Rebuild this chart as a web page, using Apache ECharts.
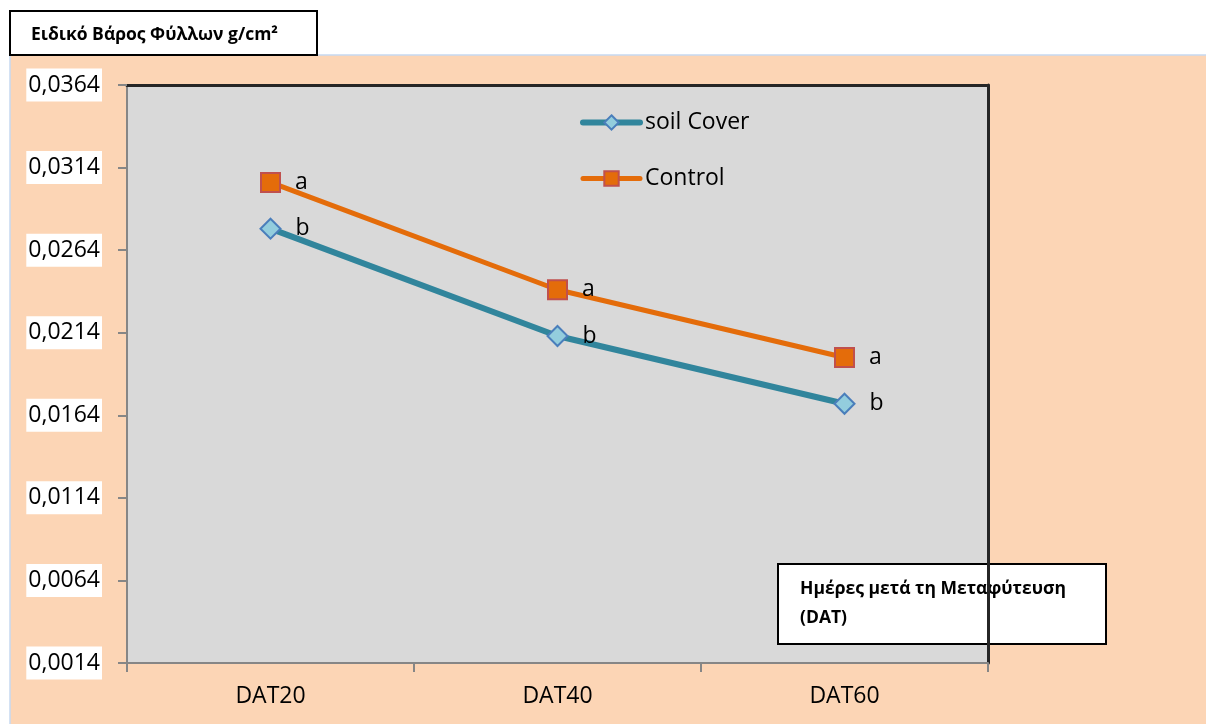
<!DOCTYPE html>
<html>
<head>
<meta charset="utf-8">
<title>Ειδικό Βάρος Φύλλων</title>
<script src="https://cdn.jsdelivr.net/npm/echarts@6/dist/echarts.min.js"></script>
<style>
  html, body { margin: 0; padding: 0; background: #ffffff; }
  #chart { width: 1206px; height: 724px; }
</style>
</head>
<body>
<div id="chart"></div>
<script>
// Specific leaf weight (g/cm²) at days after transplanting
const categories = ['DAT20', 'DAT40', 'DAT60'];
const soilCover = [0.0277, 0.0212, 0.0171];
const control = [0.0305, 0.0240, 0.0199];
const soilLetters = ['b', 'b', 'b'];
const controlLetters = ['a', 'a', 'a'];
const yTickLabels = ['0,0014', '0,0064', '0,0114', '0,0164', '0,0214', '0,0264', '0,0314', '0,0364'];

// The value axis starts at 0,0014 with a step of 0,005; plot in step units from that base
const Y_BASE = 0.0014;
const Y_STEP = 0.005;
const toSteps = v => (v - Y_BASE) / Y_STEP;

const FONT = "'Open Sans', 'Noto Sans', sans-serif";

const chart = echarts.init(document.getElementById('chart'), null, { renderer: 'canvas' });

const boxText = (text, x, y) => ({
  type: 'text',
  x: x, y: y,
  style: {
    text: text,
    fontFamily: FONT, fontWeight: 'bold', fontSize: 17.5,
    fill: '#000000', verticalAlign: 'middle'
  }
});

const option = {
  backgroundColor: '#ffffff',
  animation: false,
  textStyle: { fontFamily: FONT },
  grid: {
    left: 127, top: 85, right: 218, bottom: 61,
    show: true, backgroundColor: '#D9D9D9', borderWidth: 0
  },
  legend: {
    orient: 'vertical',
    left: 580, top: 111,
    padding: 0,
    itemWidth: 57, itemHeight: 18, itemGap: 33,
    textStyle: { fontSize: 23, color: '#000000', fontFamily: FONT },
    data: [
      { name: 'soil Cover', lineStyle: { width: 6, cap: 'round' } },
      { name: 'Control', lineStyle: { width: 5, cap: 'round' } }
    ]
  },
  xAxis: [
    {
      type: 'category',
      data: categories,
      boundaryGap: true,
      axisLine: { onZero: false, lineStyle: { color: '#868686', width: 2 } },
      axisTick: { show: true, length: 9, inside: false, alignWithLabel: false, lineStyle: { color: '#868686', width: 2 } },
      axisLabel: { fontSize: 23, color: '#000000', margin: 22, fontFamily: FONT },
      splitLine: { show: false }
    },
    {
      type: 'category',
      data: categories,
      position: 'top',
      axisLine: { onZero: false, lineStyle: { color: '#262626', width: 3 } },
      axisTick: { show: false },
      axisLabel: { show: false },
      splitLine: { show: false }
    }
  ],
  yAxis: [
    {
      type: 'value',
      min: 0, max: 7, interval: 1,
      axisLine: { show: true, onZero: false, lineStyle: { color: '#868686', width: 2 } },
      axisTick: { show: true, length: 9, inside: false, lineStyle: { color: '#868686', width: 2 } },
      axisLabel: {
        fontSize: 23, color: '#000000', margin: 25, fontFamily: FONT,
        backgroundColor: '#ffffff', padding: [5, 2, 5, 2],
        formatter: v => yTickLabels[Math.round(v)]
      },
      splitLine: { show: false }
    },
    {
      type: 'value',
      min: 0, max: 7, interval: 1,
      position: 'right',
      axisLine: { show: true, onZero: false, lineStyle: { color: '#262626', width: 3 } },
      axisTick: { show: false },
      axisLabel: { show: false },
      splitLine: { show: false }
    }
  ],
  series: [
    {
      name: 'soil Cover',
      type: 'line',
      data: soilCover.map(toSteps),
      symbol: 'diamond',
      symbolSize: 20,
      lineStyle: { color: '#31859C', width: 6 },
      itemStyle: { color: '#93CDDD', borderColor: '#4A7EBB', borderWidth: 2 },
      label: {
        show: true, position: 'right', distance: 14,
        fontSize: 23, color: '#000000', fontFamily: FONT,
        formatter: p => soilLetters[p.dataIndex]
      },
      z: 3
    },
    {
      name: 'Control',
      type: 'line',
      data: control.map(toSteps),
      symbol: 'rect',
      symbolSize: 19,
      lineStyle: { color: '#E46C0A', width: 5 },
      itemStyle: { color: '#E46C0A', borderColor: '#C0504D', borderWidth: 2 },
      label: {
        show: true, position: 'right', distance: 14,
        fontSize: 23, color: '#000000', fontFamily: FONT,
        formatter: p => controlLetters[p.dataIndex]
      },
      z: 4
    }
  ],
  graphic: [
    {
      // chart area background
      type: 'rect', z: -10, silent: true,
      shape: { x: 10, y: 55, width: 1200, height: 674 },
      style: { fill: '#FCD5B5', stroke: '#C6D9F1', lineWidth: 1.5 }
    },
    {
      // value axis title
      type: 'group', z: 100,
      children: [
        {
          type: 'rect',
          shape: { x: 10, y: 11, width: 307, height: 44 },
          style: { fill: '#ffffff', stroke: '#000000', lineWidth: 2 }
        },
        boxText('Ειδικό Βάρος Φύλλων g/cm²', 31, 35)
      ]
    },
    {
      // category axis title
      type: 'group', z: 100,
      children: [
        {
          type: 'rect',
          shape: { x: 778, y: 564, width: 328, height: 80 },
          style: { fill: '#ffffff', stroke: '#000000', lineWidth: 2 }
        },
        boxText('Ημέρες μετά τη Μεταφύτευση', 800, 589),
        boxText('(DAT)', 800, 618)
      ]
    }
  ]
};

chart.setOption(option);
</script>
</body>
</html>
